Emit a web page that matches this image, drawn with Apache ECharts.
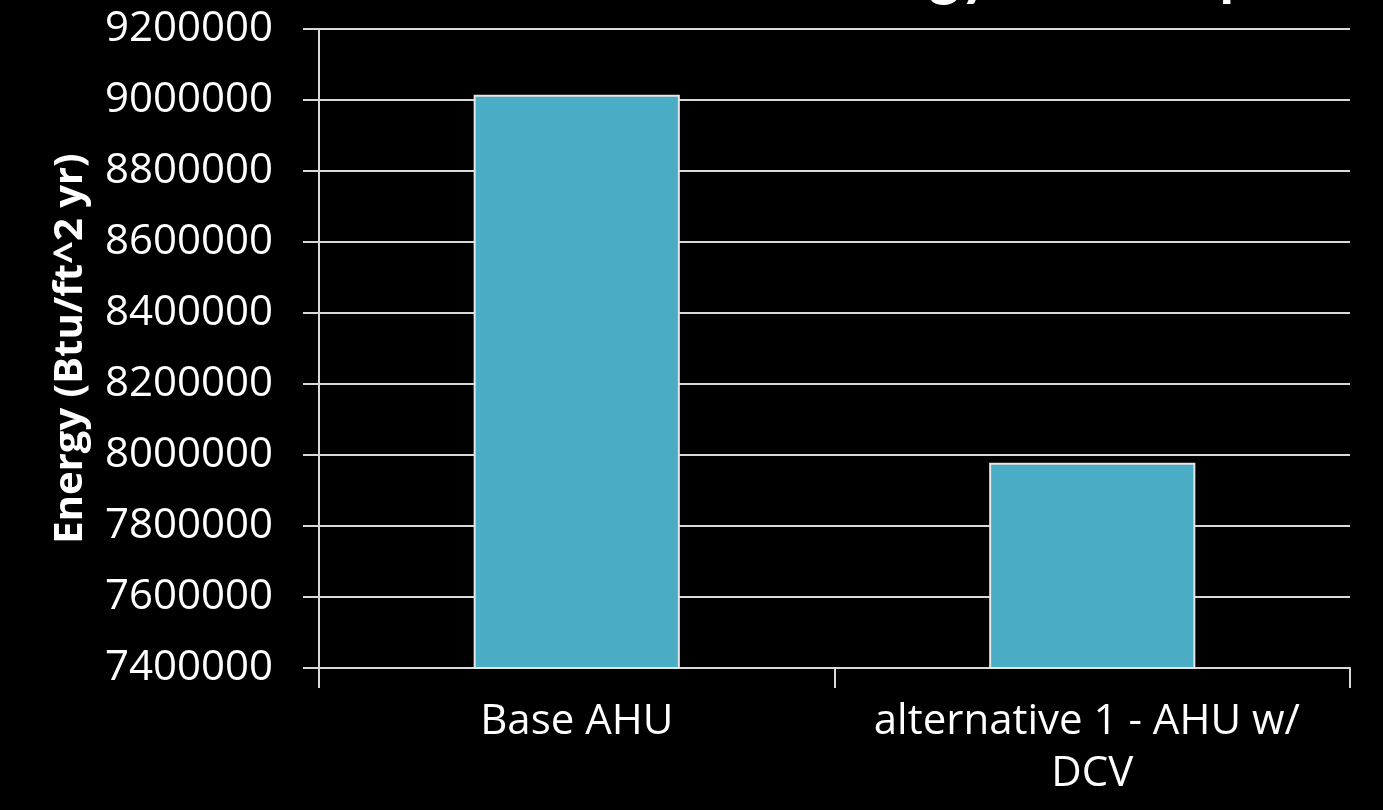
<!DOCTYPE html>
<html>
<head>
<meta charset="utf-8">
<title>Energy Consumption</title>
<script src="https://cdn.jsdelivr.net/npm/echarts@6/dist/echarts.min.js"></script>
<style>
  html, body { margin: 0; padding: 0; background: #000; }
  #chart { width: 1383px; height: 810px; }
</style>
</head>
<body>
<div id="chart"></div>
<script>
// Annual energy use for each air-handling option
const categories = ['Base AHU', 'alternative 1 - AHU w/ DCV'];
const energy = [9015000, 7978000];
const axisMin = 7400000;
const axisMax = 9200000;
const axisStep = 200000;
const titleText = 'Energy Consumption';
const axisTitle = 'Energy (Btu/ft^2 yr)';

const chart = echarts.init(document.getElementById('chart'), null, { renderer: 'canvas' });

const labelFont = '"Open Sans", "DejaVu Sans", sans-serif';

chart.setOption({
  backgroundColor: '#000000',
  animation: false,
  title: {
    text: titleText,
    left: 804,
    top: -60,
    textStyle: { color: '#ffffff', fontFamily: 'Lato, "Open Sans", sans-serif', fontWeight: 'bold', fontSize: 59 }
  },
  grid: { left: 319, right: 33, top: 29, bottom: 142, containLabel: false },
  xAxis: {
    type: 'category',
    data: categories,
    axisLine: { show: true, lineStyle: { color: '#d9d9d9', width: 2 } },
    axisTick: { show: true, alignWithLabel: false, length: 20, lineStyle: { color: '#d9d9d9', width: 2 } },
    axisLabel: {
      color: '#ffffff', fontFamily: labelFont, fontSize: 42, margin: 28,
      width: 450, overflow: 'break', lineHeight: 52, interval: 0
    },
    splitLine: { show: false }
  },
  yAxis: {
    type: 'value',
    min: axisMin,
    max: axisMax,
    interval: axisStep,
    name: axisTitle,
    nameLocation: 'middle',
    nameGap: 228,
    nameRotate: 90,
    nameTextStyle: { color: '#ffffff', fontFamily: labelFont, fontWeight: 'bold', fontSize: 40 },
    axisLine: { show: true, lineStyle: { color: '#d9d9d9', width: 2 } },
    axisTick: { show: true, length: 16, lineStyle: { color: '#d9d9d9', width: 2 } },
    axisLabel: {
      color: '#ffffff', fontFamily: labelFont, fontSize: 42, margin: 46,
      formatter: v => String(v)
    },
    splitLine: { show: true, lineStyle: { color: '#d9d9d9', width: 2 } }
  },
  series: [{
    type: 'bar',
    data: energy,
    barWidth: '40%',
    itemStyle: { color: '#4BACC6', borderColor: '#e6e6e6', borderWidth: 2 }
  }]
});
</script>
</body>
</html>
